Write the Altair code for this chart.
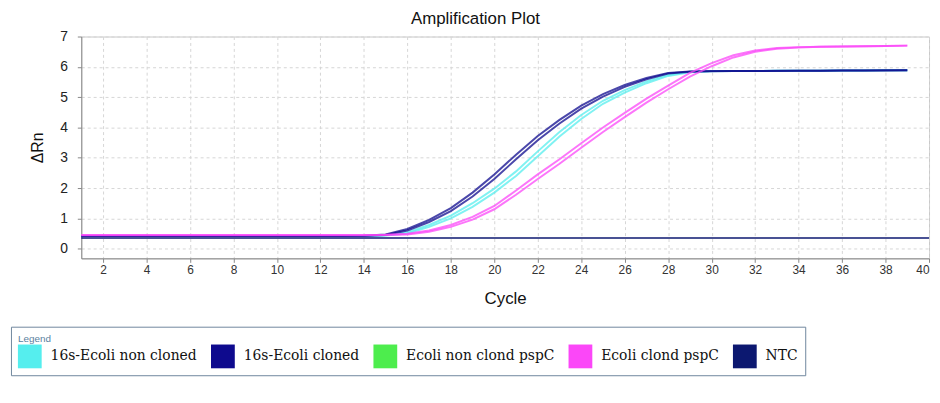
import altair as alt
import pandas as pd

# ---------------- data ----------------
cycles = list(range(1, 40))

series_names = ["16s-Ecoli non cloned", "16s-Ecoli cloned", "Ecoli non clond pspC",
                "Ecoli clond pspC", "NTC"]
series_colors = ["#55eeee", "#0e0a8e", "#4ded4d", "#fb47f8", "#0c1870"]

non_cloned_a = [0.42, 0.42, 0.42, 0.42, 0.42, 0.42, 0.42, 0.42, 0.42, 0.42, 0.42, 0.42, 0.42, 0.42,
                0.44, 0.54, 0.78, 1.09, 1.50, 1.98, 2.55, 3.21, 3.85, 4.41, 4.88, 5.23, 5.52, 5.74,
                5.84, 5.86, 5.86, 5.86, 5.87, 5.87, 5.87, 5.88, 5.88, 5.89, 5.89]
non_cloned_b = [0.42, 0.42, 0.42, 0.42, 0.42, 0.42, 0.42, 0.42, 0.42, 0.42, 0.42, 0.42, 0.42, 0.42,
                0.43, 0.50, 0.72, 1.00, 1.38, 1.85, 2.40, 3.05, 3.70, 4.28, 4.78, 5.15, 5.46, 5.70,
                5.82, 5.85, 5.86, 5.86, 5.87, 5.87, 5.87, 5.88, 5.88, 5.89, 5.89]
cloned_a = [0.42, 0.42, 0.42, 0.42, 0.42, 0.42, 0.42, 0.42, 0.42, 0.42, 0.42, 0.42, 0.42, 0.43,
            0.47, 0.65, 0.95, 1.34, 1.85, 2.45, 3.10, 3.72, 4.25, 4.72, 5.10, 5.40, 5.63, 5.80,
            5.85, 5.86, 5.86, 5.86, 5.87, 5.87, 5.87, 5.88, 5.88, 5.89, 5.89]
cloned_b = [0.42, 0.42, 0.42, 0.42, 0.42, 0.42, 0.42, 0.42, 0.42, 0.42, 0.42, 0.42, 0.42, 0.42,
            0.45, 0.60, 0.88, 1.24, 1.72, 2.30, 2.95, 3.58, 4.13, 4.62, 5.02, 5.34, 5.59, 5.78,
            5.84, 5.85, 5.86, 5.86, 5.86, 5.87, 5.87, 5.88, 5.88, 5.88, 5.89]
pspc_cloned_a = [0.45, 0.45, 0.45, 0.45, 0.45, 0.45, 0.45, 0.45, 0.45, 0.45, 0.45, 0.45, 0.45, 0.45,
                 0.46, 0.49, 0.60, 0.78, 1.05, 1.41, 1.92, 2.45, 2.95, 3.48, 4.00, 4.48, 4.95, 5.38,
                 5.80, 6.12, 6.38, 6.54, 6.62, 6.65, 6.66, 6.67, 6.68, 6.69, 6.70]
pspc_cloned_b = [0.44, 0.44, 0.44, 0.44, 0.44, 0.44, 0.44, 0.44, 0.44, 0.44, 0.44, 0.44, 0.44, 0.44,
                 0.45, 0.47, 0.56, 0.72, 0.96, 1.30, 1.78, 2.30, 2.80, 3.33, 3.85, 4.34, 4.82, 5.26,
                 5.68, 6.02, 6.31, 6.50, 6.60, 6.64, 6.66, 6.67, 6.68, 6.69, 6.70]
ntc_cycles = [1, 40]
ntc_values = [0.35, 0.35]

x_ticks = [2, 4, 6, 8, 10, 12, 14, 16, 18, 20, 22, 24, 26, 28, 30, 32, 34, 36, 38, 40]
y_ticks = [0, 1, 2, 3, 4, 5, 6, 7]

# ---------------- tables ----------------
rows = []
for name, rep, vals in [
    ("16s-Ecoli non cloned", "a", non_cloned_a),
    ("16s-Ecoli non cloned", "b", non_cloned_b),
    ("16s-Ecoli cloned", "a", cloned_a),
    ("16s-Ecoli cloned", "b", cloned_b),
    ("Ecoli clond pspC", "a", pspc_cloned_a),
    ("Ecoli clond pspC", "b", pspc_cloned_b),
]:
    for c, v in zip(cycles, vals):
        rows.append({"series": name, "rep": name + rep, "cycle": c, "rn": v})
curves_df = pd.DataFrame(rows)
ntc_df = pd.DataFrame({"series": "NTC", "rep": "ntc", "cycle": ntc_cycles, "rn": ntc_values})

color_scale = alt.Scale(domain=series_names, range=series_colors)

x_enc = alt.X("cycle:Q",
              scale=alt.Scale(domain=[1, 40], nice=False, zero=False),
              axis=alt.Axis(values=x_ticks, title="Cycle",
                            labelFont="Liberation Sans Narrow, Liberation Sans",
                            labelFontSize=12, labelColor="#333333", labelPadding=2,
                            tickSize=4, tickColor="#888888", domainColor="#888888",
                            gridDash=[3, 3], gridColor="#d6d6d6",
                            titleFont="Liberation Sans", titleFontSize=17,
                            titleFontWeight="normal", titlePadding=16, titleColor="#111111"))
y_enc = alt.Y("rn:Q",
              scale=alt.Scale(domain=[-0.32, 7], nice=False, zero=False),
              axis=alt.Axis(values=y_ticks, title="ΔRn", labelFont="Liberation Sans",
                            labelFontSize=14, labelColor="#222222", labelPadding=10,
                            tickSize=4, tickColor="#888888", domainColor="#888888",
                            gridDash=[3, 3], gridColor="#d6d6d6",
                            titleFont="Liberation Sans", titleFontSize=16,
                            titleFontWeight="normal", titlePadding=14, titleColor="#111111"))

# trailing figure spaces only widen the legend frame toward the right, as in the reference
ntc_label = "datum.label == 'NTC' ? 'NTC" + "\u2007" * 17 + "' : datum.label"

legend = alt.Legend(
    title="Legend", orient="none", legendX=-71, legendY=293, direction="horizontal",
    symbolType="square", symbolSize=576, symbolStrokeWidth=0, symbolOpacity=1,
    labelFont="DejaVu Serif", labelFontSize=14, labelColor="#111111", labelOffset=9,
    labelLimit=400, labelExpr=ntc_label,
    columnPadding=14, titleFont="Liberation Sans", titleFontSize=10, titleColor="#5a7fa0",
    titleFontWeight="normal", titlePadding=1, padding=7, strokeColor="#6f879d",
    fillColor="white", cornerRadius=0,
)

# invisible filled layer so that the legend symbols are filled squares
keys = alt.Chart(ntc_df).mark_square(filled=True, size=0).encode(
    x=x_enc, y=y_enc,
    color=alt.Color("series:N", scale=color_scale, legend=legend),
)
curves = alt.Chart(curves_df).mark_line(strokeWidth=2, opacity=0.75).encode(
    x=x_enc, y=y_enc,
    color=alt.Color("series:N", scale=color_scale, legend=legend),
    detail="rep:N",
)
ntc = alt.Chart(ntc_df).mark_line(strokeWidth=1.5).encode(
    x=x_enc, y=y_enc,
    color=alt.Color("series:N", scale=color_scale, legend=legend),
    detail="rep:N",
)

chart = alt.layer(keys, curves, ntc).properties(
    width=856, height=224,
    title=alt.TitleParams("Amplification Plot", font="Liberation Sans", fontSize=17,
                          fontWeight="normal", color="#111111", dx=-30, offset=2),
    padding={"left": 2, "top": 0, "right": 0, "bottom": 0},
).configure_view(stroke="#c8c8c8")

chart.save("out.html", embed_options={"renderer": "svg", "actions": False})
